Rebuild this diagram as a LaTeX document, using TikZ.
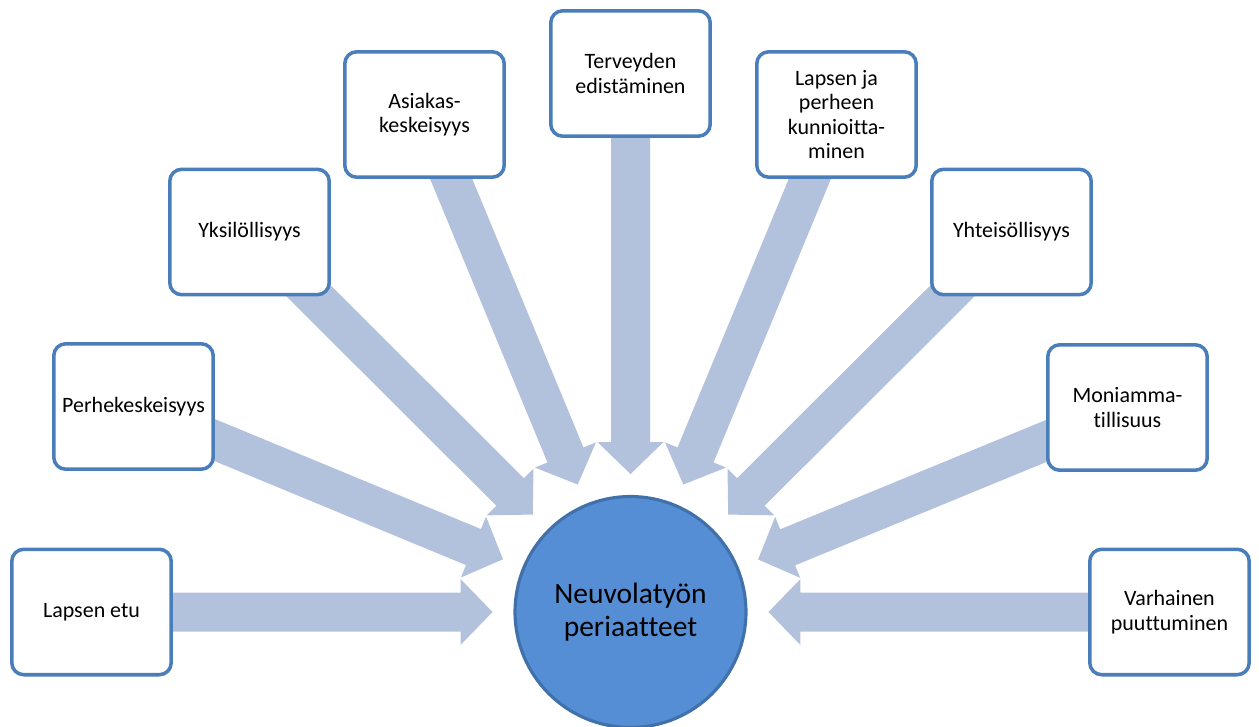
\documentclass[tikz,border=0pt]{standalone}
\usepackage{fontspec}
\setmainfont{Carlito}[Ligatures=NoCommon]
\usetikzlibrary{calc,backgrounds}
\definecolor{boxline}{RGB}{74,126,187}
\definecolor{arrowfill}{RGB}{178,194,221}
\definecolor{circfill}{RGB}{85,142,213}
\definecolor{circline}{RGB}{65,113,170}
\newcommand{\radarrow}[1]{%
  \coordinate (h#1) at ($(c)!3.4cm!(#1)$);
  \coordinate (t#1) at ($(c)!2.76cm!(#1)$);
  \fill[arrowfill] ($(#1)!0.39cm!90:(c)$) -- ($(h#1)!0.39cm!90:(c)$) -- ($(h#1)!0.66cm!90:(c)$) -- (t#1) -- ($(h#1)!0.66cm!-90:(c)$) -- ($(h#1)!0.39cm!-90:(c)$) -- ($(#1)!0.39cm!-90:(c)$) -- cycle;}
\begin{document}
\begin{tikzpicture}[x=0.02cm,y=-0.02cm,
 principle/.style={draw=boxline, line width=2pt, fill=white, rounded corners=0.24cm, minimum width=3.19cm, minimum height=2.51cm, align=center, font=\fontsize{12.5}{14}\selectfont, inner sep=2pt},
 hub/.style={circle, draw=circline, line width=1.8pt, fill=circfill, minimum size=4.62cm, align=center, font=\fontsize{16.8}{18.5}\selectfont}]
\useasboundingbox (0,0) rectangle (1259,727);
\node[hub] (c) at (630.5,612) {Neuvolatyön\\periaatteet};
\node[principle] (b1) at (91.5,612) {Lapsen etu};
\node[principle] (b2) at (133.5,406.5) {Perhekeskeisyys};
\node[principle] (b3) at (249.5,232) {Yksilöllisyys};
\node[principle] (b4) at (424.5,114.5) {Asiakas-\\keskeisyys};
\node[principle] (b5) at (630.5,73.5) {Terveyden\\edistäminen};
\node[principle] (b6) at (836.5,114.5) {Lapsen ja\\perheen\\kunnioitta-\\minen};
\node[principle] (b7) at (1011.5,232) {Yhteisöllisyys};
\node[principle] (b8) at (1127.5,407.5) {Moniamma-\\tillisuus};
\node[principle] (b9) at (1169.5,612) {Varhainen\\puuttuminen};
\begin{pgfonlayer}{background}
\radarrow{b1}\radarrow{b2}\radarrow{b3}\radarrow{b4}\radarrow{b5}\radarrow{b6}\radarrow{b7}\radarrow{b8}\radarrow{b9}
\end{pgfonlayer}
\end{tikzpicture}
\end{document}
